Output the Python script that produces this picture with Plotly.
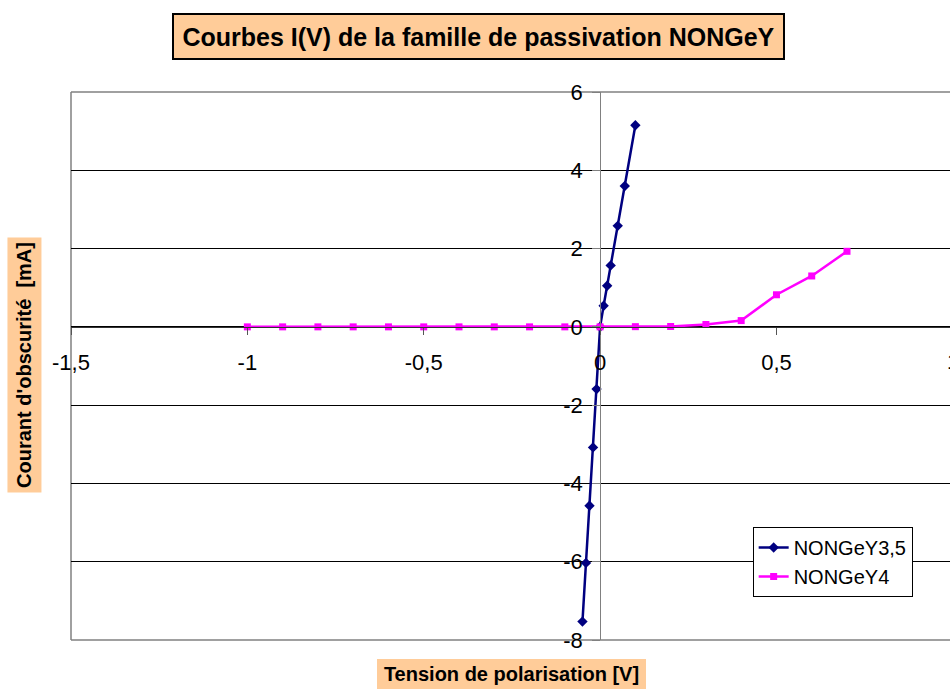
import plotly.graph_objects as go

# Bias voltage (V) and dark current (mA) for each passivation sample
v_y35 = [-0.05, -0.04, -0.03, -0.02, -0.01, 0.0, 0.01, 0.02, 0.03, 0.05, 0.07, 0.1]
i_y35 = [-7.53, -6.03, -4.57, -3.08, -1.59, 0.0, 0.54, 1.05, 1.57, 2.58, 3.60, 5.15]

v_y4 = [-1.0, -0.9, -0.8, -0.7, -0.6, -0.5, -0.4, -0.3, -0.2, -0.1,
        0.0, 0.1, 0.2, 0.3, 0.4, 0.5, 0.6, 0.7]
i_y4 = [0.0, 0.0, 0.0, 0.0, 0.0, 0.0, 0.0, 0.0, 0.0, 0.0,
        0.0, 0.005, 0.01, 0.06, 0.16, 0.82, 1.30, 1.93]

series_names = ["NONGeY3,5", "NONGeY4"]

x_ticks = [-1.5, -1.0, -0.5, 0.0, 0.5, 1.0]
x_labels = ["-1,5", "-1", "-0,5", "0", "0,5", "1"]
y_ticks = [-8, -6, -4, -2, 0, 2, 4, 6]
y_labels = ["-8", "-6", "-4", "-2", "0", "2", "4", "6"]

title_text = "Courbes I(V) de la famille de passivation NONGeY"
x_title = "Tension de polarisation [V]"
y_title = "Courant d'obscurité  [mA]"

FONT = "Liberation Sans, Arial, sans-serif"
PEACH = "#FFCC99"
FRAME = "#808080"
TICK_SIZE = 22

x_range = [-1.5, 0.992]
y_range = [-8, 6]

fig = go.Figure()
fig.add_trace(go.Scatter(
    x=v_y35, y=i_y35, name=series_names[0], mode="lines+markers",
    line=dict(color="#000080", width=2.5),
    marker=dict(symbol="diamond", size=8, color="#000080"),
    cliponaxis=False,
))
fig.add_trace(go.Scatter(
    x=v_y4, y=i_y4, name=series_names[1], mode="lines+markers",
    line=dict(color="#FF00FF", width=2.5),
    marker=dict(symbol="square", size=7, color="#FF00FF"),
    cliponaxis=False,
))

# axes cross at the origin
x_cross = (0 - x_range[0]) / (x_range[1] - x_range[0])
y_cross = (0 - y_range[0]) / (y_range[1] - y_range[0])

fig.update_layout(
    width=950, height=690,
    margin=dict(l=71, r=0, t=92, b=50),
    paper_bgcolor="white", plot_bgcolor="white",
    font=dict(family=FONT, size=TICK_SIZE, color="black"),
    showlegend=True,
    legend=dict(
        x=0.7755, y=0.2062, xanchor="left", yanchor="top",
        bgcolor="white", bordercolor="black", borderwidth=1,
        font=dict(family=FONT, size=20, color="black"),
        tracegroupgap=0, itemwidth=30,
    ),
    xaxis=dict(
        range=x_range, anchor="free", position=y_cross,
        tickvals=x_ticks, ticktext=x_labels,
        showgrid=False, zeroline=False,
        showline=True, linecolor="#333333", linewidth=1,
        ticks="outside", ticklen=7, tickcolor="#555555",
        ticklabelstandoff=9,
        tickfont=dict(family=FONT, size=TICK_SIZE, color="black"),
    ),
    yaxis=dict(
        range=y_range, anchor="free", position=x_cross,
        tickvals=y_ticks, ticktext=y_labels,
        showgrid=True, gridcolor="black", gridwidth=1,
        zeroline=False,
        showline=True, linecolor=FRAME, linewidth=1,
        ticks="outside", ticklen=8, tickcolor=FRAME,
        ticklabelstandoff=5,
        tickfont=dict(family=FONT, size=TICK_SIZE, color="black"),
    ),
)

# plot-area frame (left, top, bottom)
for x0, y0, x1, y1 in [(0, 0, 0, 1), (0, 1, 1, 1), (0, 0, 1, 0)]:
    fig.add_shape(type="line", xref="paper", yref="paper",
                  x0=x0, y0=y0, x1=x1, y1=y1,
                  line=dict(color=FRAME, width=1.5), layer="below")

# the last x tick label sits at the right edge of the page
fig.add_annotation(
    xref="paper", yref="paper",
    x=(x_ticks[-1] - x_range[0]) / (x_range[1] - x_range[0]), y=y_cross,
    text=x_labels[-1], showarrow=False, xanchor="center", yanchor="top",
    yshift=-20, font=dict(family=FONT, size=TICK_SIZE, color="black"),
)

# boxed title and axis titles
fig.add_annotation(
    xref="paper", yref="paper", x=0.4636, y=1.1013,
    xanchor="center", yanchor="middle", showarrow=False,
    text="<b>" + title_text + "</b>",
    font=dict(family=FONT, size=25, color="black"),
    bgcolor=PEACH, bordercolor="black", borderwidth=2, borderpad=0,
    width=609, height=43,
)
fig.add_annotation(
    xref="paper", yref="paper", x=0.5011, y=-0.062,
    xanchor="center", yanchor="middle", showarrow=False,
    text="<b>" + x_title + "</b>",
    font=dict(family=FONT, size=20, color="black"),
    bgcolor=PEACH, borderwidth=0, borderpad=0,
    width=269, height=30,
)
fig.add_annotation(
    xref="paper", yref="paper", x=-0.0535, y=0.5027,
    xanchor="center", yanchor="middle", showarrow=False,
    text="<b>" + y_title + "</b>", textangle=-90,
    font=dict(family=FONT, size=20, color="black"),
    bgcolor=PEACH, borderwidth=0, borderpad=0,
    width=255, height=34,
)

fig.write_html("out.html")
